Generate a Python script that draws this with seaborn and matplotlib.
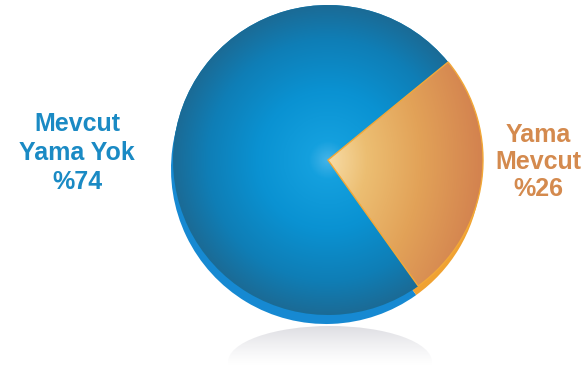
import numpy as np
import matplotlib
matplotlib.use("Agg")
import matplotlib.pyplot as plt
from matplotlib.colors import LinearSegmentedColormap
from matplotlib.patches import Ellipse
import seaborn as sns

categories = ["Mevcut\nYama Yok", "Yama\nMevcut"]
values = [74, 26]
pct_labels = ["%74", "%26"]
text_colors = ["#1a8ac4", "#d48a4e"]

sns.set_theme(style="white")
plt.rcParams['font.family'] = ['Liberation Sans', 'DejaVu Sans']

W, H = 587, 366
fig = plt.figure(figsize=(W / 100, H / 100), dpi=100)
ax = fig.add_axes([0, 0, 1, 1])

cx, cy, R = 328, H - 160, 155
start = 39.2

# depth band (side of 3D pie)
side_cols = ["#1689d2", "#f0a232"]
ax.pie(values, startangle=start, counterclock=True, center=(cx - 2, cy - 9),
       radius=R, colors=side_cols, wedgeprops=dict(linewidth=0))

# top face
wedges, _ = ax.pie(values, startangle=start, counterclock=True, center=(cx, cy),
                   radius=R, colors=["#0e8ccc", "#e6a656"],
                   wedgeprops=dict(linewidth=0))

# gradients
n = 400
xs = np.linspace(cx - R, cx + R, n)
ys = np.linspace(cy - R, cy + R, n)
X, Y = np.meshgrid(xs, ys)
D = np.sqrt((X - cx) ** 2 + (Y - cy) ** 2) / R
blue_cmap = LinearSegmentedColormap.from_list(
    "b", [(0, "#45b4e8"), (0.12, "#14a0de"), (0.45, "#0a92d2"),
          (0.78, "#0f7eb6"), (1.0, "#1b6b96")])
orange_cmap = LinearSegmentedColormap.from_list(
    "o", [(0, "#f7dca6"), (0.25, "#ecbe72"), (0.6, "#e2a258"), (1.0, "#d3824f")])
Do = np.clip(0.55 * D + 0.45 * np.clip((X - cx) / R, 0, 1), 0, 1)
for w, cmap, data in zip(wedges, [blue_cmap, orange_cmap], [D, Do]):
    im = ax.imshow(np.clip(data, 0, 1), cmap=cmap, vmin=0, vmax=1, origin="lower",
                   extent=(cx - R, cx + R, cy - R, cy + R), interpolation="bilinear",
                   zorder=w.get_zorder())
    im.set_clip_path(w)
# thin orange edge
wedges[1].set_edgecolor("#f2a838")
wedges[1].set_linewidth(1.0)
wedges[1].set_facecolor("none")
wedges[1].set_zorder(5)

# reflection
rx = np.linspace(228, 432, 300)
ry = np.linspace(0, 40, 100)
RX, RY = np.meshgrid(rx, ry)
alpha = np.clip((RY - 0) / 40, 0, 1) ** 1.3 * 0.5
rgba = np.zeros(RX.shape + (4,))
rgba[..., :3] = np.array([0.74, 0.74, 0.78])
rgba[..., 3] = alpha
ref = ax.imshow(rgba, origin="lower", extent=(228, 432, 0, 40), zorder=0.5)
ell = Ellipse((330, 4), 204, 72, transform=ax.transData, facecolor="none", edgecolor="none")
ax.add_patch(ell)
ref.set_clip_path(ell)

# labels
left_lines = categories[0].split("\n") + [pct_labels[0]]
for t, y in zip(left_lines, [124, 153, 182]):
    ax.text(77, H - y, t, color=text_colors[0], fontsize=18, fontweight="bold",
            ha="center", va="center")
right_lines = categories[1].split("\n") + [pct_labels[1]]
for t, y in zip(right_lines, [135, 162, 189]):
    ax.text(538, H - y, t, color=text_colors[1], fontsize=18, fontweight="bold",
            ha="center", va="center")

ax.set_xlim(0, W)
ax.set_ylim(0, H)
ax.set_aspect("equal")
ax.axis("off")
fig.savefig("out.png", dpi=100)
